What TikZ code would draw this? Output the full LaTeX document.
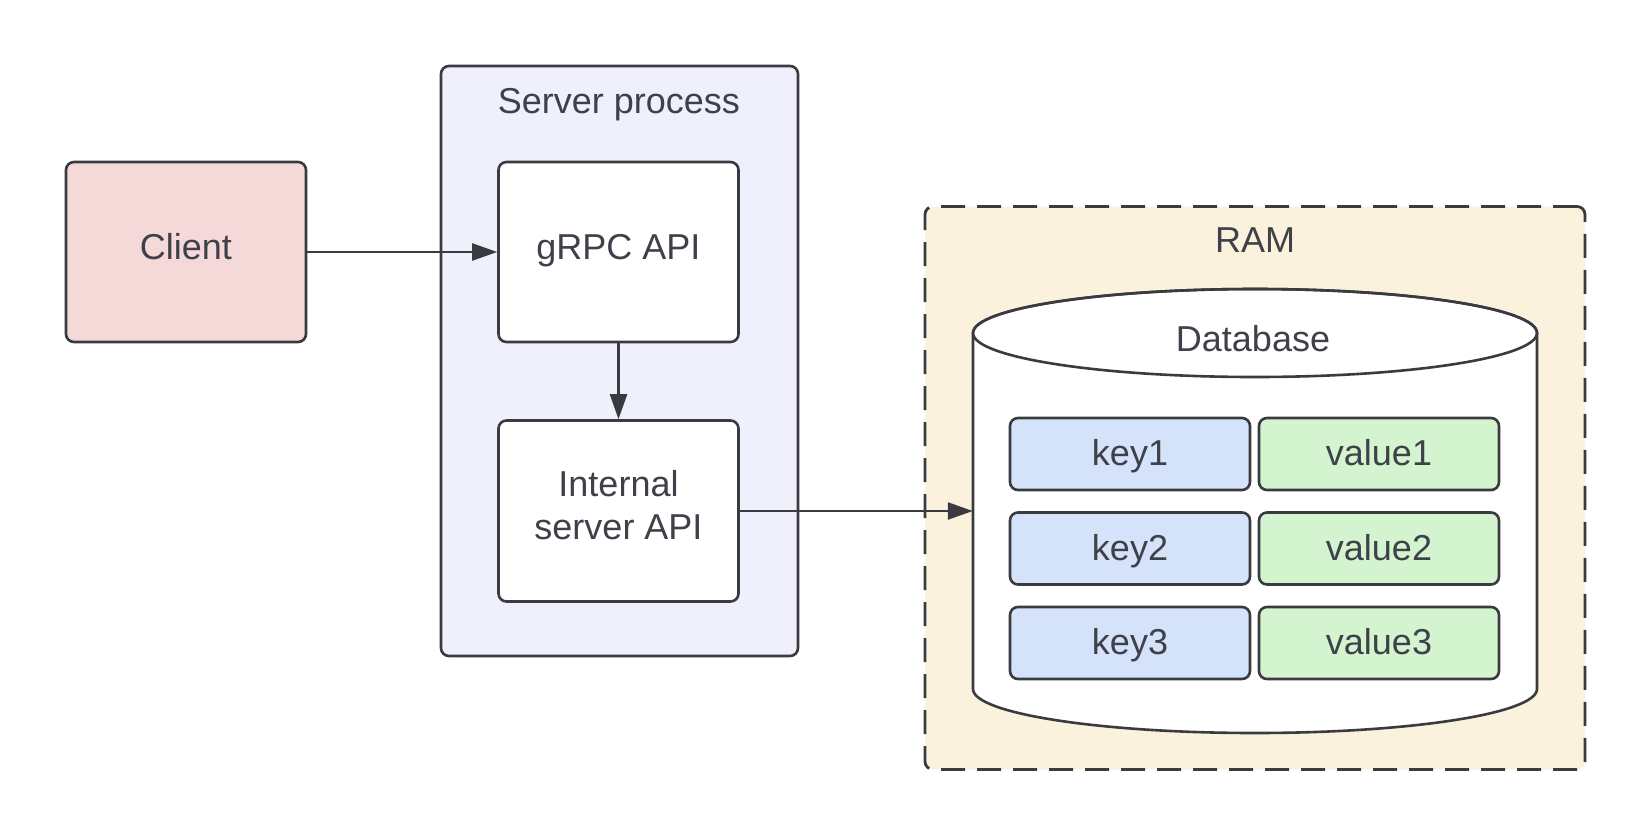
\documentclass[tikz,border=0pt]{standalone}
\usepackage{fontspec}
\setmainfont{Liberation Sans}
\usetikzlibrary{arrows.meta}
\definecolor{ink}{HTML}{3A3B41}
\definecolor{txt}{HTML}{3E4149}
\definecolor{clientfill}{HTML}{F5D9D9}
\definecolor{serverfill}{HTML}{F0F0FC}
\definecolor{ramfill}{HTML}{FBF2DD}
\definecolor{keyfill}{HTML}{D5E3FA}
\definecolor{valfill}{HTML}{D3F4CF}
\begin{document}
\begin{tikzpicture}[x=1pt,y=-1pt,
  box/.style={draw=ink, line width=2.6pt, rounded corners=8pt, inner sep=0pt,
    text=txt, font=\fontsize{36}{43}\selectfont, align=center},
  mainbox/.style={box, minimum width=240pt, minimum height=180pt, text height=26pt, text depth=12pt},
  cell/.style={box, minimum width=240pt, minimum height=72pt, text height=26pt, text depth=3pt},
  lbl/.style={text=txt, font=\fontsize{36}{43}\selectfont, inner sep=0pt, anchor=base},
  conn/.style={draw=ink, line width=2.4pt, -{Triangle[length=25pt,width=17pt]}}]
\useasboundingbox[fill=white] (0,0) rectangle (1650,828);

% containers
\node[box, fill=serverfill, minimum width=357pt, minimum height=590pt] (server) at (619.5,361) {};
\node[lbl] (serverlbl) at (619,113) {Server process};
\node[box, fill=ramfill, dash pattern=on 24pt off 12pt, line width=2.8pt, minimum width=660pt, minimum height=563pt] (ram) at (1255,488) {};
\node[lbl] (ramlbl) at (1255,252) {RAM};

% boxes
\node[mainbox, fill=clientfill] (client) at (186,252) {Client};
\node[mainbox, fill=white] (grpc) at (618.5,252) {gRPC API};
\node[box, fill=white, minimum width=240pt, minimum height=181pt, text height=69pt, text depth=13pt] (internal) at (618.5,511) {Internal\\server API};

% database cylinder
\draw[draw=ink, line width=2.6pt, fill=white]
  (973,333) -- (973,689) arc[start angle=180, end angle=0, x radius=282, y radius=44]
  -- (1537,333) arc[start angle=0, end angle=-180, x radius=282, y radius=44] -- cycle;
\draw[draw=ink, line width=2.6pt] (1255,333) ellipse[x radius=282, y radius=44];
\node[inner sep=0pt, minimum width=564pt, minimum height=356pt] (db) at (1255,511) {};
\node[lbl] (dblbl) at (1253,351) {Database};

% key/value cells
\node[cell, fill=keyfill] (k1) at (1130,454) {key1};
\node[cell, fill=valfill] (v1) at (1379,454) {value1};
\node[cell, fill=keyfill] (k2) at (1130,548.5) {key2};
\node[cell, fill=valfill] (v2) at (1379,548.5) {value2};
\node[cell, fill=keyfill] (k3) at (1130,643) {key3};
\node[cell, fill=valfill] (v3) at (1379,643) {value3};

% connectors
\draw[conn] (client.east) -- (grpc.west);
\draw[conn] (grpc.south) -- (internal.north);
\draw[conn] (internal.east) -- (internal.east -| db.west);
\end{tikzpicture}
\end{document}
